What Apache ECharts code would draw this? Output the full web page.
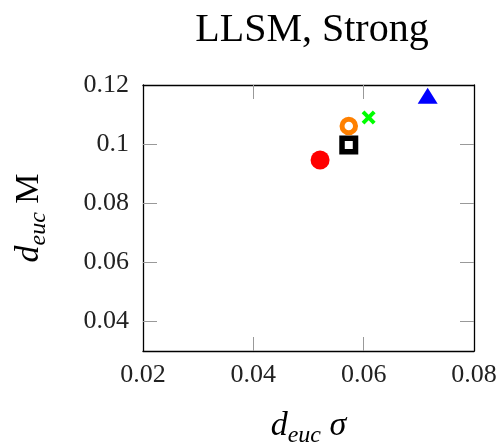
<!DOCTYPE html>
<html>
<head>
<meta charset="utf-8">
<script src="https://cdn.jsdelivr.net/npm/echarts@6/dist/echarts.min.js"></script>
<style>
  html, body { margin: 0; padding: 0; background: #fff; }
  #chart-container { width: 501px; height: 446px; }
</style>
</head>
<body>
<div id="chart-container"></div>
<script>
// values
var seriesNames = ["red", "black", "orange", "green", "blue"];
var xSigma = [0.0521, 0.0573, 0.0573, 0.0609, 0.0716];
var yM = [0.0946, 0.0997, 0.1061, 0.1090, 0.1164];
var xTicks = [0.02, 0.04, 0.06, 0.08];
var yTicks = [0.04, 0.06, 0.08, 0.1, 0.12];
// inner tick marks only (the edge ones sit on the frame)
var xTickMarks = [0.04, 0.06];
var yTickMarks = [0.04, 0.06, 0.08, 0.1];

var FONT = "Liberation Serif";
var crossPath = "path://M0,2 L2,0 L5,3 L8,0 L10,2 L7,5 L10,8 L8,10 L5,7 L2,10 L0,8 L3,5 Z";

// marker look per point
var markers = [
  { symbol: "circle", size: 19, style: { color: "#ff0000" } },
  { symbol: "rect", size: 13.5, style: { color: "#ffffff", borderColor: "#000000", borderWidth: 5.5 } },
  { symbol: "circle", size: 13.5, style: { color: "#ffffff", borderColor: "#ff8000", borderWidth: 5 } },
  { symbol: crossPath, size: 14, style: { color: "#00ff00" } },
  { symbol: "triangle", size: [20, 16], style: { color: "#0000ff" } },
];

var nameRich = {
  d: { fontFamily: FONT, fontStyle: "italic", fontSize: 34, lineHeight: 44, verticalAlign: "middle", color: "#000" },
  s: { fontFamily: FONT, fontStyle: "italic", fontSize: 24, lineHeight: 24, verticalAlign: "bottom", color: "#000" },
  n: { fontFamily: FONT, fontSize: 34, lineHeight: 44, verticalAlign: "middle", color: "#000" },
  g: { fontFamily: FONT, fontStyle: "italic", fontSize: 34, lineHeight: 44, verticalAlign: "middle", color: "#000" },
};

var dom = document.getElementById("chart-container");
var myChart = echarts.init(dom, null, { renderer: "canvas" });

function axisBase(min, max, ticks) {
  return {
    type: "value",
    min: min,
    max: max,
    splitLine: { show: false },
    axisLine: { show: true, onZero: false, lineStyle: { color: "#000", width: 1.3 } },
    axisTick: { show: true, inside: true, length: 14, customValues: ticks, lineStyle: { color: "#999", width: 1 } },
    axisLabel: { show: false },
  };
}

var xMain = axisBase(0.02, 0.08, xTickMarks);
xMain.position = "bottom";
xMain.axisLabel = { show: true, customValues: xTicks, fontFamily: FONT, fontSize: 26, color: "#222", margin: 11 };
xMain.name = "{d|d}{s|euc}{g| σ}";
xMain.nameLocation = "middle";
xMain.nameGap = 53;
xMain.nameTextStyle = { rich: nameRich };

var xTop = axisBase(0.02, 0.08, xTickMarks);
xTop.position = "top";

var yMain = axisBase(0.03, 0.12, yTickMarks);
yMain.position = "left";
yMain.axisLabel = { show: true, customValues: yTicks, fontFamily: FONT, fontSize: 26, color: "#222", margin: 14 };
yMain.name = "{d|d}{s|euc}{n| M}";
yMain.nameLocation = "middle";
yMain.nameRotate = 90;
yMain.nameGap = 92;
yMain.nameTextStyle = { rich: nameRich };

var yRight = axisBase(0.03, 0.12, yTickMarks);
yRight.position = "right";

var series = seriesNames.map(function (name, i) {
  var style = Object.assign({ opacity: 1 }, markers[i].style);
  return {
    name: name,
    type: "scatter",
    xAxisIndex: 0,
    yAxisIndex: 0,
    symbol: markers[i].symbol,
    symbolSize: markers[i].size,
    itemStyle: style,
    data: [[xSigma[i], yM[i]]],
  };
});

var option = {
  animation: false,
  backgroundColor: "#fff",
  title: {
    text: "LLSM, Strong",
    left: 307,
    top: 5,
    textAlign: "center",
    textStyle: { fontFamily: FONT, fontSize: 40, fontWeight: "normal", color: "#000" },
  },
  grid: { left: 143, right: 27, top: 85, bottom: 95, outerBoundsMode: "none" },
  xAxis: [xMain, xTop],
  yAxis: [yMain, yRight],
  series: series,
};

myChart.setOption(option);
</script>
</body>
</html>
